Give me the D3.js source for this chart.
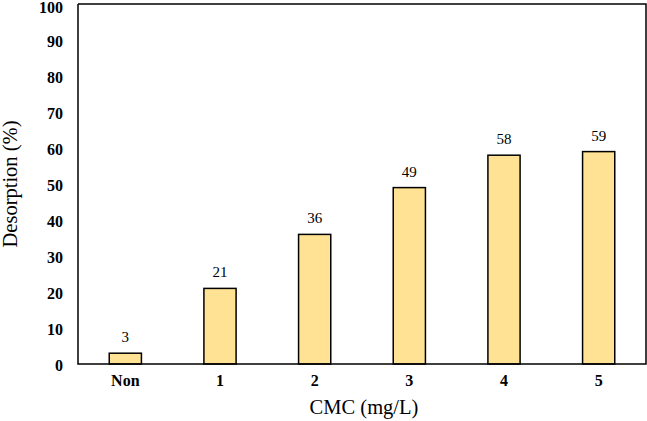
<!DOCTYPE html>
<html><head><meta charset="utf-8">
<script src="https://cdn.jsdelivr.net/npm/d3@7"></script>
<style>body{margin:0;background:#fff}svg{display:block}</style>
</head><body>
<svg id="c" width="647" height="421"></svg>
<script>
const categories = ["Non","1","2","3","4","5"];
const values = [3,21,36,49,58,59];
const yTicks = [0,10,20,30,40,50,60,70,80,90,100];

const svg = d3.select("#c");
const m = {left:78, right:646, top:4, bottom:364};
const x = d3.scaleBand().domain(categories).range([m.left,m.right]).paddingInner(0.66).paddingOuter(0.33);
const y = d3.scaleLinear().domain([0,100]).range([m.bottom,m.top]);
const font = "Liberation Serif, Times New Roman, serif";

// bars
svg.selectAll("rect.bar").data(values).enter().append("rect")
  .attr("x",(d,i)=>x(categories[i])).attr("width",x.bandwidth())
  .attr("y",d=>y(d)).attr("height",d=>y(0)-y(d))
  .attr("fill","#FFE294").attr("stroke","#000").attr("stroke-width",1.5);

// value labels
svg.selectAll("text.val").data(values).enter().append("text")
  .attr("x",(d,i)=>x(categories[i])+x.bandwidth()/2).attr("y",d=>y(d)-11)
  .attr("text-anchor","middle").attr("font-family",font).attr("font-size",15)
  .text(d=>d);

// axes
const yAxis = d3.axisLeft(y).tickValues(yTicks).tickSize(0).tickPadding(15);
const gy = svg.append("g").attr("transform",`translate(${m.left},0)`).call(yAxis);
gy.select(".domain").remove();
gy.selectAll("text").attr("font-family",font).attr("font-size",16).attr("font-weight","bold").attr("fill","#000")
  .attr("dy",d=>d===100?"0.5em":"0.42em");

const xAxis = d3.axisBottom(x).tickSize(0).tickPadding(11);
const gx = svg.append("g").attr("transform",`translate(0,${m.bottom})`).call(xAxis);
gx.select(".domain").remove();
gx.selectAll("text").attr("font-family",font).attr("font-size",16).attr("font-weight","bold").attr("fill","#000");

// frame
svg.append("path").attr("d",`M${m.left},${m.top}V${m.bottom}H${m.right}V${m.top}H${m.left}`)
  .attr("fill","none").attr("stroke","#000").attr("stroke-width",1.5);

// titles
svg.append("text").attr("x",(m.left+m.right)/2+2).attr("y",414).attr("text-anchor","middle")
  .attr("font-family",font).attr("font-size",20.5).text("CMC (mg/L)");
svg.append("text").attr("transform",`translate(17,${(m.top+m.bottom)/2}) rotate(-90)`).attr("text-anchor","middle")
  .attr("font-family",font).attr("font-size",20.5).text("Desorption (%)");
</script>
</body></html>
